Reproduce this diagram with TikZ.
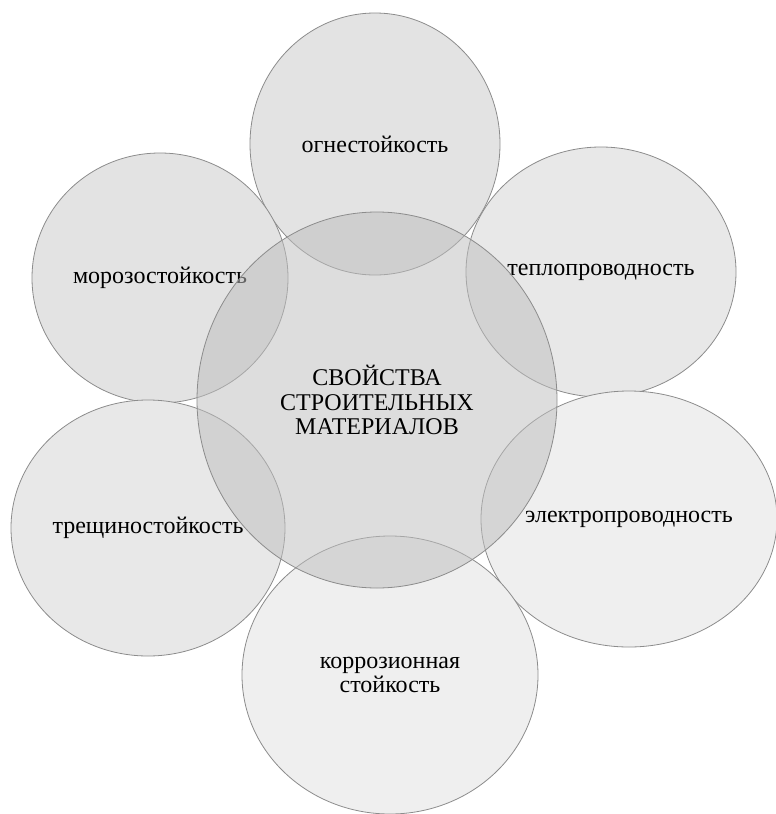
\documentclass[tikz,border=0pt]{standalone}
\usepackage{fontspec}
\setmainfont{Liberation Serif}
\usetikzlibrary{shapes.geometric}

\definecolor{rimgray}{HTML}{8C8C8C}
\definecolor{petaldark}{HTML}{E3E3E3}
\definecolor{petalmid}{HTML}{E8E8E8}
\definecolor{petallight}{HTML}{EFEFEF}
\definecolor{hubgray}{HTML}{BEBEBE}

\begin{document}
\begin{tikzpicture}
[x=1pt,y=-1pt,
petal/.style={ellipse,draw=rimgray,line width=0.8pt,inner sep=0pt,align=center,
  font=\fontsize{24}{24.5}\selectfont},
hub/.style={ellipse,draw=rimgray,line width=0.8pt,fill=hubgray,fill opacity=0.52,
  text opacity=1,inner sep=0pt,align=center,font=\fontsize{24}{24.5}\selectfont}
]
\useasboundingbox (0,0) rectangle (776,814);
% outer circles
\node[petal,fill=petaldark,minimum width=250pt,minimum height=262pt] (fire) at (375,144) {огнестойкость};
\node[petal,fill=petaldark,minimum width=256pt,minimum height=250pt] (frost) at (160,278) {морозостойкость};
\node[petal,fill=petalmid,minimum width=270pt,minimum height=250pt] (heat) at (601,272) {теплопроводность};
\node[petal,fill=petalmid,minimum width=274pt,minimum height=256pt] (crack) at (148,528) {трещиностойкость};
\node[petal,fill=petallight,minimum width=296pt,minimum height=256pt] (electro) at (629,519) {электропроводность};
\node[petal,fill=petallight,minimum width=296pt,minimum height=278pt] (corrosion) at (390,675) {коррозионная\\стойкость};
% centre
\node[hub,minimum width=360pt,minimum height=376pt] (props) at (377,400) {СВОЙСТВА\\СТРОИТЕЛЬНЫХ\\МАТЕРИАЛОВ};
\end{tikzpicture}
\end{document}
